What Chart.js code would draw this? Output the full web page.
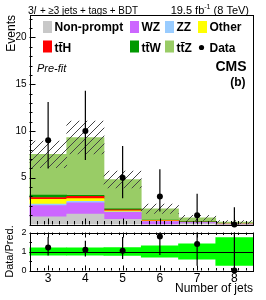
<!DOCTYPE html>
<html lang="en">
<head>
<meta charset="UTF-8">
<title>Number of jets</title>
<script src="https://cdn.jsdelivr.net/npm/chart.js"></script>
<style>
    html, body { margin: 0; padding: 0; background: #fff; }
    .contenedor { position: relative; width: 266px; height: 300px; }
    .contenedor canvas { position: absolute; left: 0; top: 0; }
</style>
</head>
<body>
<div class="contenedor">
    <canvas id="mainChart" width="266" height="300"></canvas>
    <canvas id="ratioChart" width="266" height="300"></canvas>
</div>
<script>
const bins = ['3', '4', '5', '6', '7', '8'];

// prediccion apilada, eventos por bin
const nonPrompt = [0.83, 1.12, 0.55, 0.02, 0.10, 0.00];
const wz        = [1.18, 1.21, 0.75, 0.30, 0.10, 0.04];
const zz        = [0.18, 0.15, 0.05, 0.02, 0.01, 0.00];
const other     = [0.50, 0.28, 0.10, 0.06, 0.03, 0.02];
const ttH       = [0.20, 0.24, 0.12, 0.04, 0.03, 0.01];
const ttW       = [0.25, 0.12, 0.10, 0.04, 0.03, 0.02];
const ttZ       = [4.36, 6.18, 3.13, 1.20, 0.41, 0.16];
const predErr   = [1.43, 1.76, 0.90, 0.50, 0.28, 0.18];

const dataCounts = [9, 10, 5, 3, 1, 0];
const dataLo     = [6.0, 6.9, 2.8, 1.4, 0.17, 0];
const dataHi     = [13.1, 14.3, 8.4, 5.9, 3.3, 1.84];

const ratioVal  = [1.21, 1.09, 1.04, 1.79, 1.40, 0];
const ratioLo   = [0.79, 0.74, 0.60, 0.82, 0.25, 0];
const ratioHi   = [1.76, 1.56, 1.76, 3.5, 4.6, 8.0];
const ratioBand = [0.19, 0.19, 0.20, 0.30, 0.40, 0.73];

const mainYTicks  = [0, 5, 10, 15, 20];
const ratioYTicks = [0, 1, 2];

const colores = {
    nonPrompt: '#c8c8c8', wz: '#cc66ff', zz: '#99ccff', other: '#ffff00',
    ttH: '#ff0000', ttW: '#009900', ttZ: '#99cc66', banda: '#00ff00'
};
const fuente = "'Liberation Sans', Arial, Helvetica, sans-serif";

function patronRayado(ctx) {
    const n = 8;
    const c = document.createElement('canvas');
    c.width = n; c.height = n;
    const g = c.getContext('2d');
    g.strokeStyle = '#444';
    g.lineWidth = 1;
    g.beginPath();
    g.moveTo(0, n); g.lineTo(n, 0);
    g.moveTo(-1, 1); g.lineTo(1, -1);
    g.moveTo(n - 1, n + 1); g.lineTo(n + 1, n - 1);
    g.stroke();
    return ctx.createPattern(c, 'repeat');
}

function marcas(ctx, area, escala, valores, largo, lado) {
    ctx.beginPath();
    valores.forEach(v => {
        const p = Math.round(escala.getPixelForValue(v)) + 0.5;
        if (lado === 'left') { ctx.moveTo(area.left, p); ctx.lineTo(area.left + largo, p); }
        if (lado === 'bottom') { ctx.moveTo(p, area.bottom); ctx.lineTo(p, area.bottom - largo); }
        if (lado === 'top') { ctx.moveTo(p, area.top); ctx.lineTo(p, area.top + largo); }
    });
    ctx.stroke();
}

function marco(ctx, area) {
    ctx.strokeStyle = '#000';
    ctx.lineWidth = 1;
    ctx.strokeRect(Math.round(area.left) + 0.5, Math.round(area.top) + 0.5,
        Math.round(area.right - area.left) - 1, Math.round(area.bottom - area.top));
}

function barrasError(chart, lo, hi, recortar) {
    const ctx = chart.ctx, x = chart.scales.x, y = chart.scales.y, a = chart.chartArea;
    ctx.save();
    if (recortar) {
        ctx.beginPath();
        ctx.rect(a.left, a.top, a.right - a.left, a.bottom - a.top);
        ctx.clip();
    }
    ctx.strokeStyle = '#000';
    ctx.lineWidth = 1.2;
    ctx.beginPath();
    bins.forEach((b, i) => {
        const px = x.getPixelForValue(i);
        ctx.moveTo(px, y.getPixelForValue(lo[i]));
        ctx.lineTo(px, y.getPixelForValue(hi[i]));
    });
    ctx.stroke();
    ctx.restore();
}

function menoresX() {
    const v = [];
    for (let k = 0; k <= 30; k++) v.push(-0.5 + k * 0.2);
    return v;
}

function textoTT(ctx, sufijo, x, y) {
    ctx.fillText('tt' + sufijo, x, y);
    const wt = ctx.measureText('t').width;
    ctx.fillRect(x + wt + 0.3, y - 10, wt, 1);
}

const leyenda = [
    { texto: 'Non-prompt', color: colores.nonPrompt, x: 43, fila: 0 },
    { texto: 'WZ', color: colores.wz, x: 130, fila: 0 },
    { texto: 'ZZ', color: colores.zz, x: 165, fila: 0 },
    { texto: 'Other', color: colores.other, x: 198, fila: 0 },
    { tt: 'H', color: colores.ttH, x: 43, fila: 1 },
    { tt: 'W', color: colores.ttW, x: 130, fila: 1 },
    { tt: 'Z', color: colores.ttZ, x: 165, fila: 1 },
    { texto: 'Data', punto: true, x: 198, fila: 1 }
];

const decorPrincipal = {
    id: 'decorPrincipal',
    beforeDatasetDraw(chart, args) {
        if (args.meta.type === 'line') barrasError(chart, dataLo, dataHi, false);
    },
    afterDraw(chart) {
        const ctx = chart.ctx, a = chart.chartArea;
        ctx.save();
        marco(ctx, a);
        const menY = [];
        for (let v = 1; v <= 22; v++) if (v % 5) menY.push(v);
        marcas(ctx, a, chart.scales.y, mainYTicks, 6, 'left');
        marcas(ctx, a, chart.scales.y, menY, 3, 'left');
        marcas(ctx, a, chart.scales.x, bins.map((b, i) => i), 6, 'bottom');
        marcas(ctx, a, chart.scales.x, menoresX(), 3.5, 'bottom');

        // cabecera
        ctx.fillStyle = '#000';
        ctx.textBaseline = 'alphabetic';
        ctx.textAlign = 'left';
        let x = 28;
        ctx.font = '10.5px ' + fuente;
        ctx.fillText('3', x, 13.5); x += ctx.measureText('3').width;
        ctx.font = 'italic 10.5px ' + fuente;
        ctx.fillText('l', x, 13.5); x += ctx.measureText('l').width + 1;
        ctx.font = '10.5px ' + fuente;
        ctx.fillText(' + \u22653 jets + tags + BDT', x, 13.5, 138 - x);

        ctx.font = '11px ' + fuente;
        ctx.textAlign = 'right';
        ctx.fillText(' (8 TeV)', 249, 13.5);
        let xr = 249 - ctx.measureText(' (8 TeV)').width;
        ctx.font = '7px ' + fuente;
        ctx.fillText('-1', xr, 9); xr -= ctx.measureText('-1').width;
        ctx.font = '11px ' + fuente;
        ctx.fillText('19.5 fb', xr, 13.5);

        ctx.font = 'italic 11px ' + fuente;
        ctx.textAlign = 'left';
        ctx.fillText('Pre-fit', 37, 72);
        ctx.textAlign = 'right';
        ctx.font = 'bold 14px ' + fuente;
        ctx.fillText('CMS', 246.5, 70.5);
        ctx.font = 'bold 12px ' + fuente;
        ctx.fillText('(b)', 245.5, 86);

        // leyenda
        ctx.textAlign = 'left';
        ctx.font = 'bold 12px ' + fuente;
        leyenda.forEach(e => {
            const top = e.fila === 0 ? 21 : 40.5;
            const base = e.fila === 0 ? 31 : 52;
            if (e.punto) {
                ctx.beginPath();
                ctx.arc(e.x + 3.5, 47.5, 2.6, 0, Math.PI * 2);
                ctx.fill();
            } else {
                ctx.fillStyle = e.color;
                ctx.fillRect(e.x, top, 9, 12);
                ctx.fillStyle = '#000';
            }
            const tx = e.x + 11.5;
            if (e.tt) textoTT(ctx, e.tt, tx, base);
            else ctx.fillText(e.texto, tx, base);
        });
        ctx.restore();
    }
};

const decorRatio = {
    id: 'decorRatio',
    beforeDatasetDraw(chart, args) {
        if (args.meta.type !== 'line') return;
        const ctx = chart.ctx, a = chart.chartArea;
        const y1 = Math.round(chart.scales.y.getPixelForValue(1)) + 0.5;
        ctx.save();
        ctx.strokeStyle = '#000';
        ctx.lineWidth = 1;
        ctx.beginPath();
        ctx.moveTo(a.left, y1); ctx.lineTo(a.right, y1);
        ctx.stroke();
        ctx.restore();
        barrasError(chart, ratioLo, ratioHi, true);
    },
    afterDraw(chart) {
        const ctx = chart.ctx, a = chart.chartArea;
        ctx.save();
        marco(ctx, a);
        marcas(ctx, a, chart.scales.y, ratioYTicks, 5, 'left');
        marcas(ctx, a, chart.scales.y, [0.5, 1.5], 2.5, 'left');
        const cent = bins.map((b, i) => i);
        marcas(ctx, a, chart.scales.x, cent, 5, 'bottom');
        marcas(ctx, a, chart.scales.x, menoresX(), 2.5, 'bottom');
        marcas(ctx, a, chart.scales.x, cent, 5, 'top');
        marcas(ctx, a, chart.scales.x, menoresX(), 2.5, 'top');
        ctx.restore();
    }
};

const ctxMain = document.getElementById('mainChart').getContext('2d');
const ctxRatio = document.getElementById('ratioChart').getContext('2d');

const capas = [
    ['Non-prompt', nonPrompt, colores.nonPrompt],
    ['WZ', wz, colores.wz],
    ['ZZ', zz, colores.zz],
    ['Other', other, colores.other],
    ['ttH', ttH, colores.ttH],
    ['ttW', ttW, colores.ttW],
    ['ttZ', ttZ, colores.ttZ]
];
const totales = bins.map((b, i) => capas.reduce((s, c) => s + c[1][i], 0));
const bandaHatch = totales.map((t, i) => [t - predErr[i], t + predErr[i]]);
const bandaRatio = ratioBand.map(e => [1 - e, 1 + e]);

const opcionesComunes = {
    responsive: false,
    animation: false,
    devicePixelRatio: 1,
    events: [],
    plugins: { legend: { display: false }, tooltip: { enabled: false } },
    datasets: { bar: { barPercentage: 1, categoryPercentage: 1, borderWidth: 0 } }
};

new Chart(ctxMain, {
    data: {
        labels: bins,
        datasets: [
            { type: 'line', label: 'Data', data: dataCounts, showLine: false, pointRadius: 3,
              pointBackgroundColor: '#000', pointBorderWidth: 0, clip: false, order: 0, stack: 'data' },
            { type: 'bar', label: 'unc', data: bandaHatch, backgroundColor: patronRayado(ctxMain),
              grouped: false, stack: 'unc', order: 1 },
            ...capas.map(c => ({ type: 'bar', label: c[0], data: c[1], backgroundColor: c[2], stack: 'mc', order: 2 }))
        ]
    },
    options: {
        ...opcionesComunes,
        layout: { padding: { left: 0, right: 13, top: 15, bottom: 75.5 } },
        scales: {
            x: { display: false, stacked: true, offset: true },
            y: {
                stacked: true, min: 0, max: 22.4,
                afterFit: s => { s.width = 29.5; },
                afterBuildTicks: s => { s.ticks = mainYTicks.map(v => ({ value: v })); },
                grid: { display: false, drawTicks: false },
                border: { display: false },
                ticks: { padding: 3, color: '#000', font: { family: fuente, size: 10 },
                         callback: v => (v === 0 ? null : v) },
                title: { display: true, text: 'Events', align: 'end', color: '#000',
                         font: { family: fuente, size: 12 }, padding: { top: 4, bottom: 0 } }
            }
        }
    },
    plugins: [decorPrincipal]
});

new Chart(ctxRatio, {
    data: {
        labels: bins,
        datasets: [
            { type: 'line', data: ratioVal, showLine: false, pointRadius: 3,
              pointBackgroundColor: '#000', pointBorderWidth: 0, clip: false, order: 0 },
            { type: 'bar', data: bandaRatio, backgroundColor: colores.banda, order: 1 }
        ]
    },
    options: {
        ...opcionesComunes,
        layout: { padding: { left: 0, right: 13, top: 232.5, bottom: 0 } },
        scales: {
            x: {
                offset: true,
                afterFit: s => { s.height = 29.5; },
                grid: { display: false, drawTicks: false },
                border: { display: false },
                ticks: { padding: 1, color: '#000', font: { family: fuente, size: 12 } },
                title: { display: true, text: 'Number of jets', align: 'end', color: '#000',
                         font: { family: fuente, size: 12 }, padding: { top: 0, bottom: 4 } }
            },
            y: {
                min: 0, max: 2,
                afterFit: s => { s.width = 29.5; },
                afterBuildTicks: s => { s.ticks = ratioYTicks.map(v => ({ value: v })); },
                grid: { display: false, drawTicks: false },
                border: { display: false },
                ticks: { padding: 3, color: '#000', font: { family: fuente, size: 9 } },
                title: { display: true, text: 'Data/Pred.', color: '#000',
                         font: { family: fuente, size: 11 }, padding: { top: 3, bottom: 0 } }
            }
        }
    },
    plugins: [decorRatio]
});
</script>
</body>
</html>
